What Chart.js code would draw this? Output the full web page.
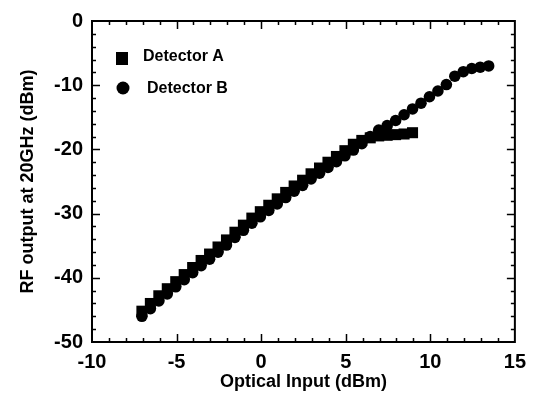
<!DOCTYPE html>
<html>
<head>
<meta charset="utf-8">
<script src="https://cdn.jsdelivr.net/npm/chart.js@4.4.1/dist/chart.umd.min.js"></script>
<style>
  html, body { margin: 0; padding: 0; background: #fff; }
  #wrap { width: 534px; height: 395px; }
</style>
</head>
<body>
<div id="wrap"><canvas id="rfChart"></canvas></div>
<script>
// Detector A (squares)
const detAX = [-7.05, -6.55, -6.05, -5.55, -5.05, -4.55, -4.05, -3.55, -3.05, -2.55, -2.05,
    -1.55, -1.05, -0.55, -0.05, 0.45, 0.95, 1.45, 1.95, 2.45, 2.95, 3.45, 3.95, 4.45, 4.95,
    5.45, 5.95, 6.45, 6.95, 7.45, 7.95, 8.45, 8.95];
const detAY = [-45.2, -44.0, -42.8, -41.7, -40.6, -39.5, -38.4, -37.3, -36.3, -35.2, -34.1,
    -32.9, -31.8, -30.7, -29.7, -28.7, -27.7, -26.7, -25.7, -24.8, -23.8, -22.9, -22.0, -21.1, -20.2,
    -19.2, -18.6, -18.2, -17.9, -17.8, -17.7, -17.6, -17.4];

// Detector B (circles)
const detBX = [-7.05, -6.55, -6.05, -5.55, -5.05, -4.55, -4.05, -3.55, -3.05, -2.55, -2.05,
    -1.55, -1.05, -0.55, -0.05, 0.45, 0.95, 1.45, 1.95, 2.45, 2.95, 3.45, 3.95, 4.45, 4.95,
    5.45, 5.95, 6.45, 6.95, 7.45, 7.95, 8.45, 8.95, 9.45, 9.95, 10.45, 10.95, 11.45, 11.95,
    12.45, 12.95, 13.45];
const detBY = [-46.0, -44.8, -43.6, -42.5, -41.4, -40.3, -39.2, -38.1, -37.1, -36.0, -34.9,
    -33.7, -32.6, -31.5, -30.5, -29.5, -28.5, -27.5, -26.5, -25.6, -24.6, -23.7, -22.8, -21.9, -21.0,
    -20.1, -19.1, -18.0, -17.0, -16.3, -15.5, -14.6, -13.7, -12.8, -11.8, -10.9, -9.9, -8.6, -7.9,
    -7.4, -7.2, -7.0];

const seriesLabels = ['Detector A', 'Detector B'];
const xTitle = 'Optical Input (dBm)';
const yTitle = 'RF output at 20GHz (dBm)';
const xRange = [-10, 15];
const yRange = [-50, 0];

const FONT = '"Liberation Sans", Arial, sans-serif';

function toPoints(xs, ys) {
    return xs.map((x, i) => ({ x: x, y: ys[i] }));
}

// Frame and inward ticks on all four sides
const frameTicks = {
    id: 'frameTicks',
    afterDraw(chart) {
        const { ctx, chartArea: a, scales: { x, y } } = chart;
        ctx.save();
        ctx.strokeStyle = '#000';
        ctx.lineWidth = 2;
        ctx.strokeRect(a.left, a.top, a.right - a.left, a.bottom - a.top);
        ctx.lineWidth = 1.5;
        ctx.beginPath();
        for (let v = xRange[0] + 1; v < xRange[1]; v += 1) {
            const px = Math.round(x.getPixelForValue(v)) + 0.5;
            const len = v % 5 === 0 ? 8 : 4;
            ctx.moveTo(px, a.bottom); ctx.lineTo(px, a.bottom - len);
            ctx.moveTo(px, a.top); ctx.lineTo(px, a.top + len);
        }
        for (let v = yRange[0] + 2; v < yRange[1]; v += 2) {
            const py = Math.round(y.getPixelForValue(v)) + 0.5;
            const len = v % 10 === 0 ? 8 : 4;
            ctx.moveTo(a.left, py); ctx.lineTo(a.left + len, py);
            ctx.moveTo(a.right, py); ctx.lineTo(a.right - len, py);
        }
        ctx.stroke();
        ctx.restore();
    }
};

// Legend inside the plot, upper left
const innerLegend = {
    id: 'innerLegend',
    afterDraw(chart) {
        const { ctx, chartArea: a } = chart;
        ctx.save();
        ctx.fillStyle = '#000';
        ctx.font = 'bold 16px ' + FONT;
        ctx.textBaseline = 'middle';
        ctx.textAlign = 'left';
        // square
        ctx.fillRect(a.left + 24, a.top + 31, 12, 13);
        ctx.fillText(seriesLabels[0], a.left + 51, a.top + 36);
        // circle
        ctx.beginPath();
        ctx.arc(a.left + 31, a.top + 67, 6.5, 0, Math.PI * 2);
        ctx.fill();
        ctx.fillText(seriesLabels[1], a.left + 55, a.top + 68);
        ctx.restore();
    }
};

const ctx = document.getElementById('rfChart').getContext('2d');
const rfChart = new Chart(ctx, {
    type: 'scatter',
    data: {
        datasets: [{
            label: seriesLabels[1],
            data: toPoints(detBX, detBY),
            pointStyle: 'circle',
            pointRadius: 5.8,
            backgroundColor: '#000',
            borderColor: '#000',
            borderWidth: 0
        }, {
            label: seriesLabels[0],
            data: toPoints(detAX, detAY),
            pointStyle: 'rect',
            pointRadius: 7.8,
            backgroundColor: '#000',
            borderColor: '#000',
            borderWidth: 0
        }]
    },
    options: {
        responsive: true,
        maintainAspectRatio: false,
        animation: false,
        layout: { padding: { top: 18, right: 14, left: 0, bottom: 0 } },
        plugins: {
            legend: { display: false },
            tooltip: { enabled: false }
        },
        scales: {
            x: {
                type: 'linear',
                min: xRange[0],
                max: xRange[1],
                afterFit: (scale) => { scale.height = 53; },
                ticks: {
                    stepSize: 5,
                    color: '#000',
                    padding: 8,
                    maxRotation: 0,
                    font: { family: FONT, size: 20, weight: 'bold' }
                },
                grid: { display: false, drawTicks: false },
                border: { display: false },
                title: {
                    display: true,
                    text: xTitle,
                    color: '#000',
                    padding: { top: 0, bottom: 2 },
                    font: { family: FONT, size: 18, weight: 'bold' }
                }
            },
            y: {
                type: 'linear',
                min: yRange[0],
                max: yRange[1],
                afterFit: (scale) => { scale.width = 92; },
                ticks: {
                    stepSize: 10,
                    color: '#000',
                    padding: 9,
                    font: { family: FONT, size: 20, weight: 'bold' }
                },
                grid: { display: false, drawTicks: false },
                border: { display: false },
                title: {
                    display: true,
                    text: yTitle,
                    color: '#000',
                    padding: { top: 17, bottom: 0 },
                    font: { family: FONT, size: 18, weight: 'bold' }
                }
            }
        }
    },
    plugins: [frameTicks, innerLegend]
});
</script>
</body>
</html>
